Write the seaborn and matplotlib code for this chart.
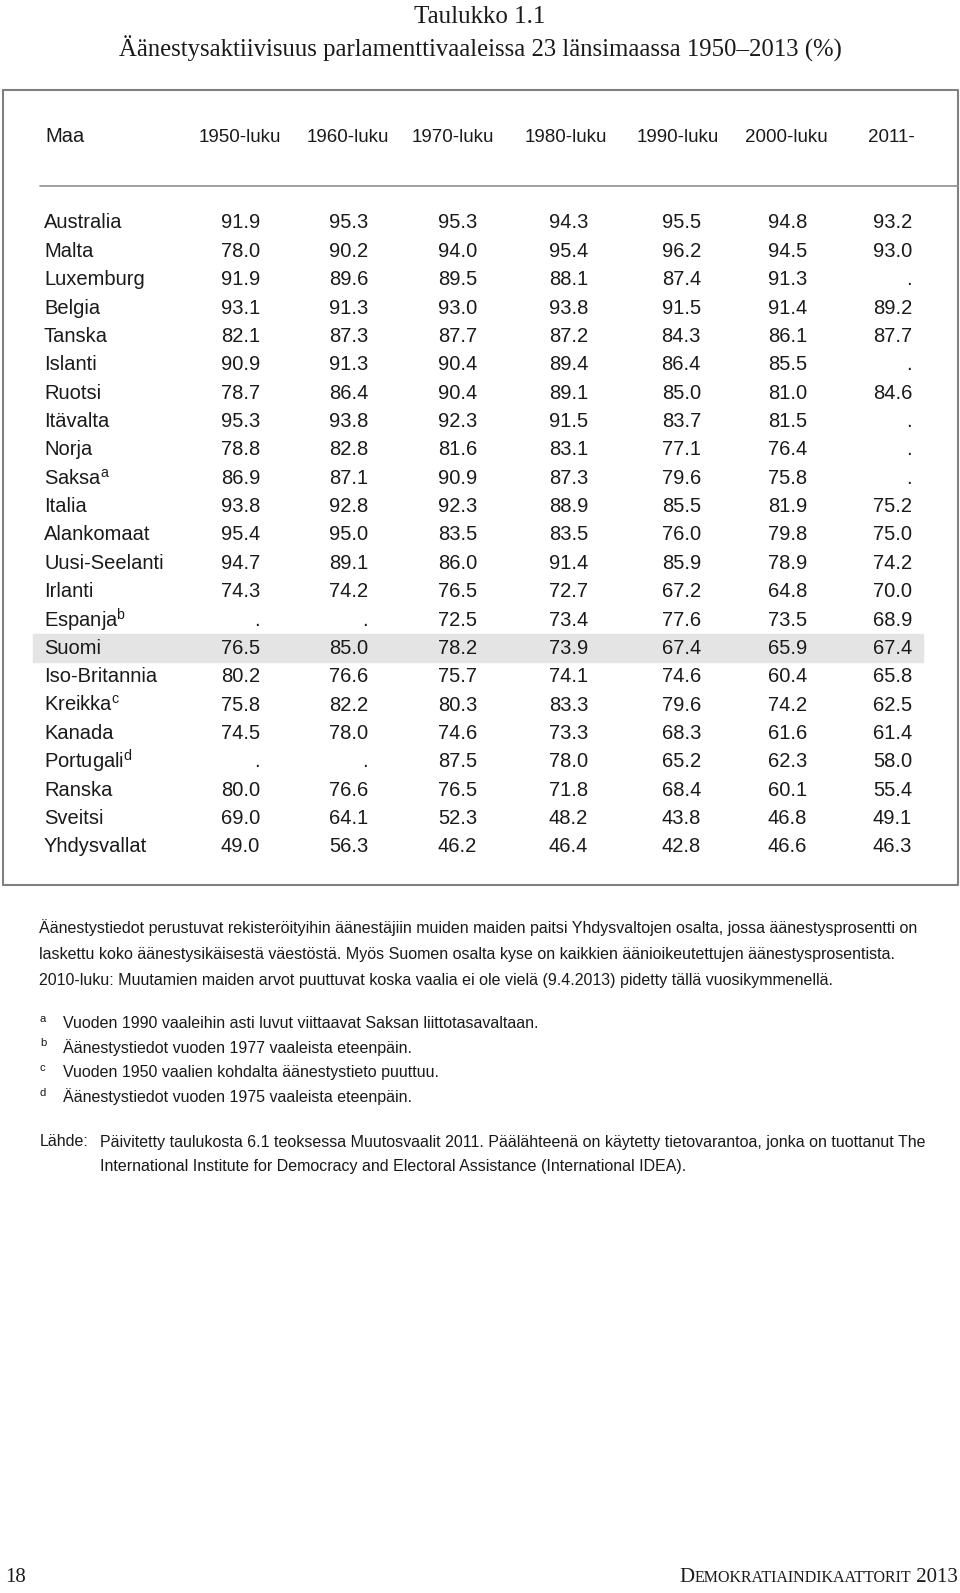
import matplotlib
matplotlib.use('Agg')
import numpy as np
import seaborn as sns
from matplotlib import pyplot as plt

title_lines = ['Taulukko 1.1',
               'Äänestysaktiivisuus parlamenttivaaleissa 23 länsimaassa 1950–2013 (%)']
decades = ['1950-luku', '1960-luku', '1970-luku', '1980-luku', '1990-luku', '2000-luku', '2011-']
countries = ['Australia', 'Malta', 'Luxemburg', 'Belgia', 'Tanska', 'Islanti', 'Ruotsi', 'Itävalta',
             'Norja', 'Saksa', 'Italia', 'Alankomaat', 'Uusi-Seelanti', 'Irlanti', 'Espanja', 'Suomi',
             'Iso-Britannia', 'Kreikka', 'Kanada', 'Portugali', 'Ranska', 'Sveitsi', 'Yhdysvallat']
country_notes = {'Saksa': 'a', 'Espanja': 'b', 'Kreikka': 'c', 'Portugali': 'd'}
highlight = 'Suomi'

nan = np.nan
turnout = [
    [91.9, 95.3, 95.3, 94.3, 95.5, 94.8, 93.2],
    [78.0, 90.2, 94.0, 95.4, 96.2, 94.5, 93.0],
    [91.9, 89.6, 89.5, 88.1, 87.4, 91.3, nan],
    [93.1, 91.3, 93.0, 93.8, 91.5, 91.4, 89.2],
    [82.1, 87.3, 87.7, 87.2, 84.3, 86.1, 87.7],
    [90.9, 91.3, 90.4, 89.4, 86.4, 85.5, nan],
    [78.7, 86.4, 90.4, 89.1, 85.0, 81.0, 84.6],
    [95.3, 93.8, 92.3, 91.5, 83.7, 81.5, nan],
    [78.8, 82.8, 81.6, 83.1, 77.1, 76.4, nan],
    [86.9, 87.1, 90.9, 87.3, 79.6, 75.8, nan],
    [93.8, 92.8, 92.3, 88.9, 85.5, 81.9, 75.2],
    [95.4, 95.0, 83.5, 83.5, 76.0, 79.8, 75.0],
    [94.7, 89.1, 86.0, 91.4, 85.9, 78.9, 74.2],
    [74.3, 74.2, 76.5, 72.7, 67.2, 64.8, 70.0],
    [nan, nan, 72.5, 73.4, 77.6, 73.5, 68.9],
    [76.5, 85.0, 78.2, 73.9, 67.4, 65.9, 67.4],
    [80.2, 76.6, 75.7, 74.1, 74.6, 60.4, 65.8],
    [75.8, 82.2, 80.3, 83.3, 79.6, 74.2, 62.5],
    [74.5, 78.0, 74.6, 73.3, 68.3, 61.6, 61.4],
    [nan, nan, 87.5, 78.0, 65.2, 62.3, 58.0],
    [80.0, 76.6, 76.5, 71.8, 68.4, 60.1, 55.4],
    [69.0, 64.1, 52.3, 48.2, 43.8, 46.8, 49.1],
    [49.0, 56.3, 46.2, 46.4, 42.8, 46.6, 46.3],
]

intro = ['Äänestystiedot perustuvat rekisteröityihin äänestäjiin muiden maiden paitsi Yhdysvaltojen osalta, jossa äänestysprosentti on',
         'laskettu koko äänestysikäisestä väestöstä. Myös Suomen osalta kyse on kaikkien äänioikeutettujen äänestysprosentista.',
         '2010-luku: Muutamien maiden arvot puuttuvat koska vaalia ei ole vielä (9.4.2013) pidetty tällä vuosikymmenellä.']
footnotes = [('a', 'Vuoden 1990 vaaleihin asti luvut viittaavat Saksan liittotasavaltaan.'),
             ('b', 'Äänestystiedot vuoden 1977 vaaleista eteenpäin.'),
             ('c', 'Vuoden 1950 vaalien kohdalta äänestystieto puuttuu.'),
             ('d', 'Äänestystiedot vuoden 1975 vaaleista eteenpäin.')]
source = ['Päivitetty taulukosta 6.1 teoksessa Muutosvaalit 2011. Päälähteenä on käytetty tietovarantoa, jonka on tuottanut The',
          'International Institute for Democracy and Electoral Assistance (International IDEA).']
page_no = '18'
book = 'Demokratiaindikaattorit 2013'


def main():
    sns.set_theme(style='white')
    sans = ['Liberation Sans', 'DejaVu Sans']
    serif = ['Liberation Serif', 'DejaVu Serif']
    plt.rcParams['font.family'] = sans
    plt.rcParams['mathtext.fontset'] = 'custom'
    plt.rcParams['mathtext.rm'] = 'Liberation Sans'

    fig = plt.figure(figsize=(9.6, 15.93), dpi=100)
    ax = fig.add_axes([0, 0, 1, 1])
    ax.set_xlim(0, 960)
    ax.set_ylim(1593, 0)
    ax.axis('off')
    ink = '#1a1a1a'
    r = fig.canvas.get_renderer()

    def width_of(t):
        return t.get_window_extent(r).width

    # title
    ax.text(480, 17, title_lines[0], ha='center', va='center', fontsize=18, family=serif, color=ink)
    ax.text(480, 49, title_lines[1], ha='center', va='center', fontsize=17.8, family=serif, color=ink)

    # frame and header rule
    ax.plot([3, 958, 958, 3, 3], [90, 90, 885, 885, 90], color='#808080', lw=1.5)
    ax.plot([40, 958], [186, 186], color='#909090', lw=1.2)

    row0, step = 223, 28.36
    col_right = [260, 368, 477, 588, 701, 807, 912]
    head_x = [240, 348, 453, 566, 678, 786, 891]
    fs = 14.5

    ax.text(45, 137, 'Maa', ha='left', va='center', fontsize=fs, color=ink)
    for x, d in zip(head_x, decades):
        ax.text(x, 137, d, ha='center', va='center', fontsize=13.5, color=ink)

    for i, (c, vals) in enumerate(zip(countries, turnout)):
        y = row0 + i * step
        if c == highlight:
            ax.axhspan(y - 14, y + 14, xmin=33 / 960, xmax=923 / 960, color='#e4e4e4', zorder=0)
        label = c + (r'$^{\mathrm{%s}}$' % country_notes[c] if c in country_notes else '')
        ax.text(44, y, label, ha='left', va='center', fontsize=fs, color=ink)
        for x, v in zip(col_right, vals):
            s = '.' if np.isnan(v) else f'{v:.1f}'
            ax.text(x, y, s, ha='right', va='center', fontsize=fs, color=ink)

    # notes: font size fitted so that the first line spans the same width as in print
    probe = ax.text(0, -100, intro[0], fontsize=10)
    nfs = 10 * 880 / width_of(probe)
    probe.remove()
    for k, line in enumerate(intro):
        ax.text(39, 928 + k * 26.5, line, ha='left', va='center', fontsize=nfs, color=ink)
    for k, (m, line) in enumerate(footnotes):
        y = 1023 + k * 24.5
        ax.text(40, y - 4, m, ha='left', va='center', fontsize=nfs * 0.7, color=ink)
        ax.text(63, y, line, ha='left', va='center', fontsize=nfs, color=ink)
    ax.text(40, 1142, 'Lähde:', ha='left', va='center', fontsize=nfs, color=ink)
    for k, line in enumerate(source):
        ax.text(100, 1142 + k * 24.5, line, ha='left', va='center', fontsize=nfs, color=ink)

    # page footer, small caps built from two sizes
    ax.text(5, 1578, page_no, ha='left', va='center', fontsize=15, family=serif, color=ink)
    inv = ax.transData.inverted()
    t1 = ax.text(958, 1578, ' 2013', ha='right', va='center', fontsize=15, family=serif, color=ink)
    x_end = inv.transform((t1.get_window_extent(r).x0, 0))[0]
    t2 = ax.text(x_end, 1578, book[1:-5].upper(), ha='right', va='center', fontsize=11.5,
                 family=serif, color=ink)
    x_end = inv.transform((t2.get_window_extent(r).x0, 0))[0]
    ax.text(x_end, 1578, book[0], ha='right', va='center', fontsize=15, family=serif, color=ink)

    fig.savefig('out.png', dpi=100)


if __name__ == '__main__':
    main()
